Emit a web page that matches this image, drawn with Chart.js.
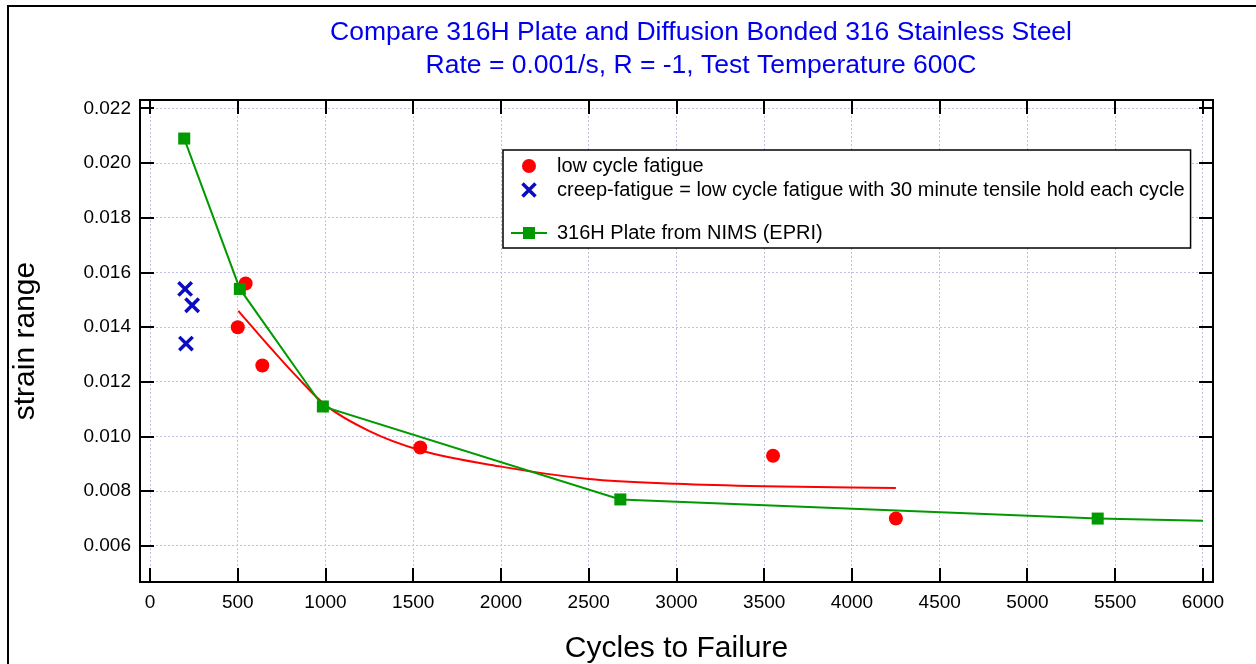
<!DOCTYPE html>
<html lang="en">
  <head>
    <meta charset="utf-8" />
    <title>316H Plate vs Diffusion Bonded 316</title>
    <script src="https://cdn.jsdelivr.net/npm/chart.js"></script>
    <style>
      html,
      body {
        margin: 0;
        padding: 0;
        background: #ffffff;
        overflow: hidden;
      }
      #frame {
        position: absolute;
        left: 7px;
        top: 5px;
        width: 1400px;
        height: 800px;
        border: 2px solid #000000;
      }
      #chart {
        position: absolute;
        left: 0;
        top: 0;
      }
    </style>
  </head>
  <body>
    <div id="frame"></div>
    <canvas id="chart" width="1256" height="664"></canvas>

    <script>
      // values
      const lcfCycles = [500, 545, 640, 1540, 3550, 4250];
      const lcfStrain = [0.014, 0.0156, 0.0126, 0.0096, 0.0093, 0.007];

      const creepCycles = [200, 240, 205];
      const creepStrain = [0.0154, 0.0148, 0.0134];

      const nimsCycles = [195, 512, 985, 2680, 5400, 6000];
      const nimsStrain = [0.0209, 0.0154, 0.0111, 0.0077, 0.007, 0.00692];

      const fitCycles = [503, 700, 835, 1000, 1250, 1540, 2000, 2500, 3000, 3500, 4250];
      const fitStrain = [0.0146, 0.01315, 0.0122, 0.01115, 0.0102, 0.0095, 0.0089, 0.00845, 0.00827, 0.00818, 0.00812];

      const xTicks = [0, 500, 1000, 1500, 2000, 2500, 3000, 3500, 4000, 4500, 5000, 5500, 6000];
      const yTicks = [0.006, 0.008, 0.01, 0.012, 0.014, 0.016, 0.018, 0.02, 0.022];

      const titleLines = [
        "Compare 316H Plate and Diffusion Bonded 316 Stainless Steel",
        "Rate = 0.001/s, R = -1, Test Temperature 600C",
      ];

      const FONT = '"Liberation Sans", Arial, sans-serif';
      const RED = "#ff0000";
      const BLUE = "#0b0bc4";
      const GREEN = "#009a00";

      function toPoints(xs, ys) {
        return xs.map((x, i) => ({ x: x, y: ys[i] }));
      }

      // little marker painter, used for the legend
      function drawMarker(ctx, kind, x, y) {
        ctx.save();
        if (kind === "circle") {
          ctx.fillStyle = RED;
          ctx.beginPath();
          ctx.arc(x, y, 7, 0, Math.PI * 2);
          ctx.fill();
        } else if (kind === "cross") {
          ctx.strokeStyle = BLUE;
          ctx.lineWidth = 3.5;
          ctx.beginPath();
          ctx.moveTo(x - 6.5, y - 6.5);
          ctx.lineTo(x + 6.5, y + 6.5);
          ctx.moveTo(x + 6.5, y - 6.5);
          ctx.lineTo(x - 6.5, y + 6.5);
          ctx.stroke();
        } else if (kind === "lineRect") {
          ctx.strokeStyle = GREEN;
          ctx.lineWidth = 2;
          ctx.beginPath();
          ctx.moveTo(x - 18, y);
          ctx.lineTo(x + 18, y);
          ctx.stroke();
          ctx.fillStyle = GREEN;
          ctx.fillRect(x - 6, y - 6, 12, 12);
        }
        ctx.restore();
      }

      const decorPlugin = {
        id: "decor",
        afterDraw(chart) {
          const ctx = chart.ctx;
          const area = chart.chartArea;
          const xs = chart.scales.x;
          const ys = chart.scales.y;
          const tickLen = 14;

          ctx.save();
          // plot frame
          ctx.strokeStyle = "#000";
          ctx.lineWidth = 2;
          ctx.setLineDash([]);
          ctx.strokeRect(area.left, area.top, area.right - area.left, area.bottom - area.top);

          // inward tick marks on all four sides
          ctx.beginPath();
          xs.ticks.forEach((t) => {
            const px = Math.round(xs.getPixelForValue(t.value));
            ctx.moveTo(px, area.bottom);
            ctx.lineTo(px, area.bottom - tickLen);
            ctx.moveTo(px, area.top);
            ctx.lineTo(px, area.top + tickLen);
          });
          ys.ticks.forEach((t) => {
            const py = Math.round(ys.getPixelForValue(t.value));
            ctx.moveTo(area.left, py);
            ctx.lineTo(area.left + tickLen, py);
            ctx.moveTo(area.right, py);
            ctx.lineTo(area.right - tickLen, py);
          });
          ctx.stroke();

          // title
          ctx.fillStyle = "#0000ee";
          ctx.font = "26.5px " + FONT;
          ctx.textAlign = "center";
          ctx.textBaseline = "middle";
          ctx.fillText(titleLines[0], 701, 33);
          ctx.fillText(titleLines[1], 701, 66);

          // legend box inside the plot
          const legendRows = [
            { ds: 0, kind: "circle", y: 166 },
            { ds: 1, kind: "cross", y: 190 },
            { ds: 2, kind: "lineRect", y: 233 },
          ];
          ctx.font = "20px " + FONT;
          const textX = 557;
          let maxW = 0;
          legendRows.forEach((r) => {
            maxW = Math.max(maxW, ctx.measureText(chart.data.datasets[r.ds].label).width);
          });
          const boxX = 503,
            boxY = 150,
            boxW = textX + maxW + 6 - boxX,
            boxH = 98;
          ctx.fillStyle = "#fff";
          ctx.fillRect(boxX, boxY, boxW, boxH);
          ctx.strokeStyle = "#000";
          ctx.lineWidth = 1.5;
          ctx.strokeRect(boxX, boxY, boxW, boxH);
          legendRows.forEach((r) => {
            drawMarker(ctx, r.kind, 529, r.y);
            ctx.fillStyle = "#000";
            ctx.textAlign = "left";
            ctx.textBaseline = "middle";
            ctx.fillText(chart.data.datasets[r.ds].label, textX, r.y);
          });
          ctx.restore();
        },
      };

      new Chart(document.getElementById("chart"), {
        type: "scatter",
        data: {
          datasets: [
            {
              label: "low cycle fatigue",
              data: toPoints(lcfCycles, lcfStrain),
              pointStyle: "circle",
              pointRadius: 7,
              backgroundColor: RED,
              borderColor: RED,
              borderWidth: 0,
              showLine: false,
              order: 1,
            },
            {
              label: "creep-fatigue = low cycle fatigue with 30 minute tensile hold each cycle",
              data: toPoints(creepCycles, creepStrain),
              pointStyle: "crossRot",
              pointRadius: 9.5,
              borderColor: BLUE,
              backgroundColor: BLUE,
              pointBorderWidth: 3.5,
              showLine: false,
              order: 2,
            },
            {
              label: "316H Plate from NIMS (EPRI)",
              data: toPoints(nimsCycles, nimsStrain),
              pointStyle: "rect",
              pointRadius: [8.5, 8.5, 8.5, 8.5, 8.5, 0],
              backgroundColor: GREEN,
              borderColor: GREEN,
              pointBorderWidth: 0,
              borderWidth: 2,
              showLine: true,
              tension: 0,
              order: 0,
            },
            {
              label: "fit",
              data: toPoints(fitCycles, fitStrain),
              pointRadius: 0,
              borderColor: RED,
              borderWidth: 2,
              showLine: true,
              cubicInterpolationMode: "monotone",
              order: 3,
            },
          ],
        },
        options: {
          responsive: false,
          animation: false,
          devicePixelRatio: 1,
          layout: { padding: { top: 100, right: 43, left: 0, bottom: 0 } },
          plugins: {
            legend: { display: false },
            title: { display: false },
            tooltip: { enabled: false },
          },
          scales: {
            x: {
              type: "linear",
              min: -57,
              max: 6057,
              afterBuildTicks: (scale) => {
                scale.ticks = xTicks.map((v) => ({ value: v }));
              },
              afterFit: (scale) => {
                scale.height = 82;
              },
              ticks: {
                color: "#000",
                padding: 9,
                font: { family: FONT, size: 19 },
                callback: (v) => String(v),
              },
              grid: { color: "#c0c0e6", lineWidth: 1, drawTicks: false },
              border: { display: false, dash: [2, 2] },
              title: {
                display: true,
                text: "Cycles to Failure",
                color: "#000",
                font: { family: FONT, size: 30, lineHeight: 1 },
                padding: { top: 0, bottom: 0 },
              },
            },
            y: {
              type: "linear",
              min: 0.00468,
              max: 0.02231,
              afterBuildTicks: (scale) => {
                scale.ticks = yTicks.map((v) => ({ value: v }));
              },
              afterFit: (scale) => {
                scale.width = 140;
              },
              ticks: {
                color: "#000",
                padding: 9,
                font: { family: FONT, size: 19 },
                callback: (v) => Number(v).toFixed(3),
              },
              grid: { color: "#c0c0e6", lineWidth: 1, drawTicks: false },
              border: { display: false, dash: [2, 2] },
              title: {
                display: true,
                text: "strain range",
                color: "#000",
                font: { family: FONT, size: 30, lineHeight: 1 },
                padding: { top: 11, bottom: 0 },
              },
            },
          },
        },
        plugins: [decorPlugin],
      });
    </script>
  </body>
</html>
